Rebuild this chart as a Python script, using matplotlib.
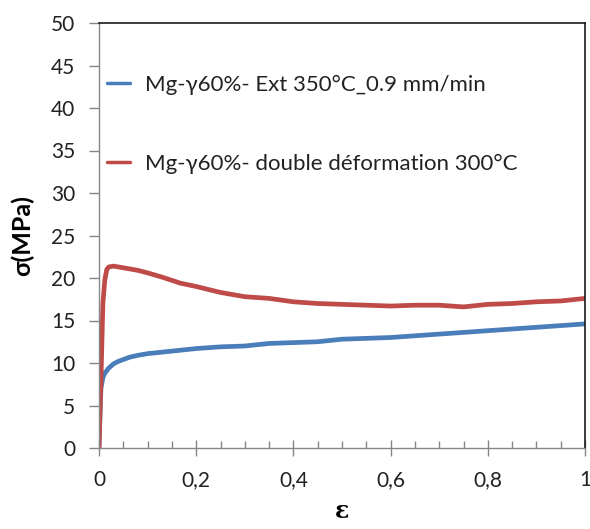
import matplotlib
matplotlib.use("Agg")
import matplotlib.pyplot as plt
from matplotlib.ticker import MultipleLocator, FuncFormatter

plt.rcParams['font.family'] = ['Lato', 'Open Sans', 'DejaVu Sans']

# Data
eps_red = [0, 0.002, 0.004, 0.008, 0.012, 0.016, 0.02, 0.03, 0.04, 0.05, 0.06, 0.08, 0.1,
           0.13, 0.167, 0.2, 0.25, 0.3, 0.35, 0.4, 0.45, 0.5, 0.55, 0.6, 0.65, 0.7,
           0.75, 0.8, 0.85, 0.9, 0.95, 1.0]
sig_red = [0, 4, 8, 17, 19.8, 21.0, 21.3, 21.4, 21.3, 21.2, 21.1, 20.9, 20.6,
           20.1, 19.4, 19.0, 18.3, 17.8, 17.6, 17.2, 17.0, 16.9, 16.8, 16.7, 16.8, 16.8,
           16.6, 16.9, 17.0, 17.2, 17.3, 17.6]

eps_blue = [0, 0.002, 0.004, 0.008, 0.012, 0.02, 0.03, 0.04, 0.064, 0.08, 0.1, 0.167,
            0.2, 0.25, 0.3, 0.35, 0.4, 0.45, 0.5, 0.55, 0.6, 0.65, 0.7, 0.75, 0.8,
            0.85, 0.9, 0.95, 1.0]
sig_blue = [0, 4, 7.0, 8.3, 8.8, 9.4, 9.9, 10.2, 10.7, 10.9, 11.1, 11.5,
            11.7, 11.9, 12.0, 12.3, 12.4, 12.5, 12.8, 12.9, 13.0, 13.2, 13.4, 13.6, 13.8,
            14.0, 14.2, 14.4, 14.6]

label_blue = "Mg-\u03b360%- Ext 350°C_0.9 mm/min"
label_red = "Mg-\u03b360%- double déformation 300°C"

fig = plt.figure(figsize=(5.9, 5.29), dpi=100)
ax = fig.add_axes([99/590, 1 - 448/529, 486/590, 425/529])

ax.plot(eps_blue, sig_blue, color='#4A7EBB', lw=3.4, label=label_blue, solid_capstyle='round')
ax.plot(eps_red, sig_red, color='#BE4B48', lw=3.4, label=label_red, solid_capstyle='round')

ax.set_xlim(0, 1)
ax.set_ylim(0, 50)
ax.xaxis.set_major_locator(MultipleLocator(0.2))
ax.xaxis.set_minor_locator(MultipleLocator(0.05))
ax.yaxis.set_major_locator(MultipleLocator(5))
ax.xaxis.set_major_formatter(FuncFormatter(lambda v, p: ('%g' % round(v, 2)).replace('.', ',')))

for s in ['left', 'bottom']:
    ax.spines[s].set_color('#868686')
    ax.spines[s].set_linewidth(1.0)
for s in ['top', 'right']:
    ax.spines[s].set_color('#1a1a1a')
    ax.spines[s].set_linewidth(1.2)

ax.tick_params(axis='y', which='major', direction='out', length=7, width=1,
               color='#868686', labelsize=15, pad=10, labelcolor='#222222')
ax.tick_params(axis='x', which='major', direction='inout', length=12, width=1,
               color='#868686', labelsize=15, pad=10, labelcolor='#222222')
ax.tick_params(axis='x', which='minor', direction='in', length=5, width=1,
               color='#868686')

ax.set_ylabel('\u03c3(MPa)', fontsize=18, fontweight='bold', labelpad=12)
ax.set_xlabel('\u03b5', fontsize=17, fontweight='bold', family=['DejaVu Serif'], labelpad=6)

leg = ax.legend(loc='upper left', bbox_to_anchor=(8/486, 1 - 52/425), frameon=False,
                fontsize=16, handlelength=1.05, handletextpad=0.68, labelspacing=2.65,
                borderpad=0, borderaxespad=0)
for t in leg.get_texts():
    t.set_color('#222222')
for h in leg.get_lines():
    h.set_linewidth(2.5)

fig.savefig('out.png', dpi=100)
